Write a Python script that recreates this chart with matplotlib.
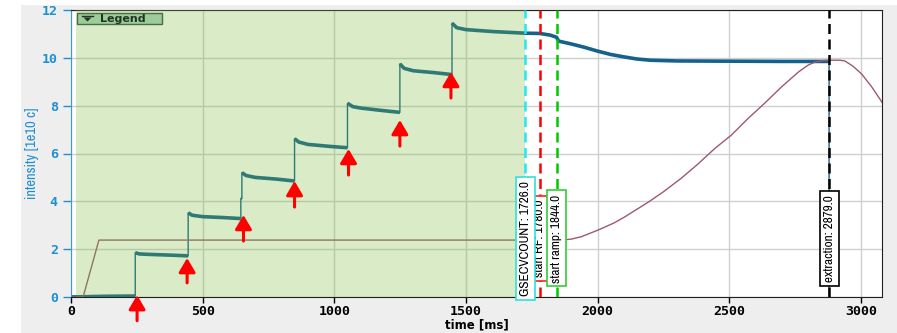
import numpy as np
import matplotlib.pyplot as plt
from matplotlib import font_manager
from matplotlib.patches import Rectangle, Polygon
from matplotlib.lines import Line2D

# beam intensity [1e10 charges] vs time [ms]
t_int = [0, 130, 240, 244, 244, 260, 300, 380, 445, 445, 460, 500, 580, 645, 645, 649, 649,
         665, 700, 780, 849, 849, 865, 900, 980, 1050, 1050, 1070, 1100, 1180, 1249, 1249,
         1265, 1300, 1380, 1447, 1447, 1465, 1500, 1600, 1726, 1780, 1820, 1844, 1852,
         1900, 1950, 2000, 2050, 2100, 2150, 2200, 2300, 2500, 2700, 2879, 2879]
v_int = [0.0, 0.03, 0.04, 0.04, 1.85, 1.80, 1.78, 1.75, 1.72, 3.52, 3.42, 3.36, 3.32, 3.28,
         4.12, 4.12, 5.20, 5.08, 5.00, 4.93, 4.85, 6.62, 6.48, 6.38, 6.30, 6.24, 8.10, 7.96,
         7.90, 7.80, 7.72, 9.75, 9.56, 9.46, 9.38, 9.30, 11.45, 11.26, 11.18, 11.10, 11.03,
         11.02, 10.95, 10.86, 10.70, 10.58, 10.44, 10.28, 10.14, 10.04, 9.95, 9.90, 9.87,
         9.86, 9.85, 9.85, 0.0]

# magnet ramp (scaled)
t_ramp = [0, 46, 106, 1844, 1880, 1900, 1938, 2002, 2063, 2100, 2193, 2250, 2318, 2380,
          2444, 2508, 2570, 2634, 2700, 2763, 2800, 2825, 2850, 2882, 2920, 2939, 2970,
          3003, 3040, 3087]
v_ramp = [0.0, 0.0, 2.38, 2.38, 2.40, 2.42, 2.52, 2.80, 3.10, 3.33, 3.97, 4.40, 4.97, 5.55,
          6.20, 6.77, 7.45, 8.10, 8.80, 9.41, 9.70, 9.82, 9.88, 9.90, 9.90, 9.87, 9.65,
          9.32, 8.80, 8.03]

# injections: arrow x, tip and tail height
inj_t = [251, 441, 655, 849, 1054, 1249, 1443]
inj_tip = [0.08, 1.63, 3.43, 4.85, 6.19, 7.40, 9.41]
inj_tail = [-0.99, 0.59, 2.34, 3.76, 5.10, 6.31, 8.32]

# timing events
ev_t = [1780.0, 1726.0, 1844.0, 2879.0]
ev_name = ["start RF", "GSECVCOUNT", "start ramp", "extraction"]
ev_color = ["#ff0000", "#22e8f0", "#00c800", "#000000"]
ev_box = ["#ff2020", "#30e0d8", "#33cc33", "#000000"]

inj_window = (19, 1726)

# narrow font for labels if there is one, otherwise a smaller DejaVu
narrow = [f.name for f in font_manager.fontManager.ttflist
          if "Narrow" in f.name or "Condensed" in f.name]
if narrow:
    lab_font, lab_size = [narrow[0], "DejaVu Sans"], 9.5
else:
    lab_font, lab_size = ["DejaVu Sans"], 7.4

W, H = 897, 333
fig = plt.figure(figsize=(W / 100, H / 100), dpi=100)
fig.patch.set_facecolor("white")
fig.patches.append(Rectangle((21 / W, 0), 1 - 21 / W, 1 - 5 / H, transform=fig.transFigure,
                             facecolor="#eeeeee", edgecolor="none", zorder=-5))

ax = fig.add_axes([71 / W, 36 / H, 811 / W, 287 / H])
ax.set_facecolor("white")
ax.set_xlim(0, 3080)
ax.set_ylim(0, 12)
ax.set_xticks(np.arange(0, 3001, 500))
ax.set_yticks(np.arange(0, 13, 2))
ax.grid(True, color="#d0d0d0", lw=1.0, zorder=0)
ax.set_axisbelow(True)

t_int = np.array(t_int, float)
v_int = np.array(v_int, float)
ax.plot(t_int, v_int, color="#14628c", lw=1.0, zorder=2)
# thicker noisy band on the plateaus, thin vertical jumps
cuts = np.where(np.diff(t_int) == 0)[0] + 1
for seg_t, seg_v in zip(np.split(t_int, cuts), np.split(v_int, cuts)):
    if len(seg_t) > 1:
        lw = 2.6 if seg_t[0] < 2300 else 1.6
        ax.plot(seg_t, seg_v, color="#14628c", lw=lw, zorder=2, solid_capstyle="butt")

ax.plot(t_ramp, v_ramp, color="#9c5a6e", lw=1.0, zorder=2)

# injection window overlay
ax.axvspan(*inj_window, color="#77bb37", alpha=0.28, lw=0, zorder=3)

for t, c in zip(ev_t, ev_color):
    ax.axvline(t, color=c, lw=1.8, ls=(0, (4, 2.2)), zorder=4)

for t, name, bc in zip(ev_t, ev_name, ev_box):
    ax.text(t, 0.204, f"{name}: {t:.1f}", rotation=90, ha="center", va="center",
            transform=ax.get_xaxis_transform(), fontsize=lab_size, family=lab_font, zorder=6,
            bbox=dict(boxstyle="square,pad=0.3", fc="white", ec=bc, lw=1.2))

for t, tip, tail in zip(inj_t, inj_tip, inj_tail):
    ax.annotate("", xy=(t, tip), xytext=(t, tail), annotation_clip=False, zorder=7,
                arrowprops=dict(arrowstyle="-|>,head_length=0.85,head_width=0.5",
                                color="#ff0000", lw=2.2, shrinkA=0, shrinkB=0,
                                mutation_scale=10))

for s in ["top", "right", "bottom"]:
    ax.spines[s].set_color("#202020")
ax.spines["left"].set_color("#3a9ad9")
ax.tick_params(axis="y", colors="#1e8fd0", length=6, width=1)
ax.tick_params(axis="x", colors="black", length=4, width=1, pad=2)
for lab in ax.get_xticklabels():
    lab.set_family("DejaVu Sans Mono")
    lab.set_fontweight("bold")
    lab.set_fontsize(9.5)
for lab in ax.get_yticklabels():
    lab.set_family("DejaVu Sans Mono")
    lab.set_fontweight("bold")
    lab.set_fontsize(9.5)
    lab.set_color("#1e8fd0")

ax.set_ylabel("intensity [1e10 c]", color="#1e8fd0", family=lab_font, fontsize=lab_size + 1,
              labelpad=2)
ax.set_xlabel("time [ms]", family="DejaVu Sans", fontsize=8.5, fontweight="bold",
              labelpad=0)

# collapsed legend button
fig.patches.append(Rectangle((77 / W, 1 - 24 / H), 85 / W, 11 / H, transform=fig.transFigure,
                             facecolor="#9ccc98", edgecolor="#4a6a48", lw=1.0, zorder=8))
fig.lines.append(Line2D([82 / W, 93 / W], [1 - 16 / H, 1 - 16 / H], transform=fig.transFigure,
                        color="#223322", lw=1.0, zorder=9))
fig.patches.append(Polygon([(83.5 / W, 1 - 17.5 / H), (91.5 / W, 1 - 17.5 / H), (87.5 / W, 1 - 21.5 / H)],
                           closed=True, transform=fig.transFigure, fc="#223322", ec="none", zorder=9))
fig.text(100 / W, 1 - 18.5 / H, "Legend", fontsize=8, fontweight="bold", color="#223322",
         va="center", ha="left", zorder=9)

fig.savefig("out.png", dpi=100)
